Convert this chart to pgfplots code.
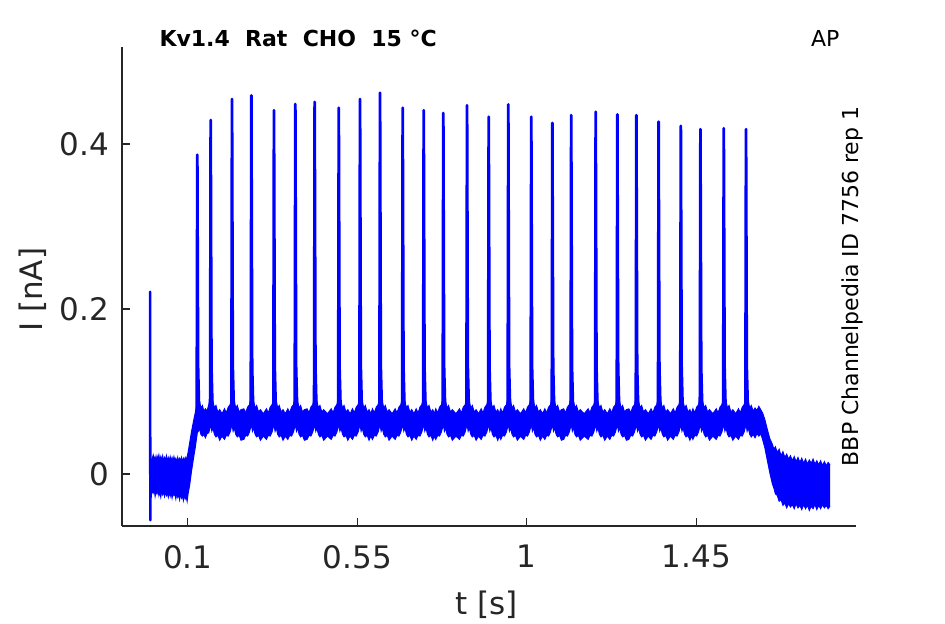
\documentclass[border=0pt]{standalone}
\usepackage{fontspec}
\setmainfont{DejaVu Sans}
\usepackage{pgfplots}
\pgfplotsset{compat=1.18}
\usepackage{pgfplotstable}
\usepgfplotslibrary{fillbetween}
\definecolor{axgray}{HTML}{262626}
\pgfplotstableread{
t up lo
0.001 0.020 -0.018
0.0035 0.015 -0.025
0.006 0.019 -0.020
0.0085 0.023 -0.023
0.011 0.017 -0.018
0.0135 0.021 -0.027
0.016 0.015 -0.021
0.0185 0.022 -0.024
0.021 0.018 -0.019
0.0235 0.023 -0.026
0.026 0.016 -0.022
0.0285 0.021 -0.028
0.031 0.017 -0.020
0.0335 0.022 -0.025
0.036 0.015 -0.022
0.0385 0.020 -0.027
0.041 0.017 -0.021
0.0435 0.022 -0.026
0.046 0.015 -0.023
0.0485 0.020 -0.028
0.051 0.016 -0.021
0.0535 0.021 -0.027
0.056 0.016 -0.022
0.0585 0.020 -0.029
0.061 0.015 -0.023
0.0635 0.021 -0.026
0.066 0.016 -0.024
0.0685 0.019 -0.030
0.071 0.014 -0.023
0.0735 0.020 -0.028
0.076 0.015 -0.025
0.0785 0.019 -0.031
0.081 0.016 -0.024
0.0835 0.020 -0.029
0.086 0.014 -0.026
0.0885 0.019 -0.032
0.091 0.016 -0.025
0.0935 0.020 -0.030
0.096 0.017 -0.027
0.0985 0.021 -0.033
0.101 0.026 -0.024
0.105 0.037 -0.014
0.110 0.051 0.003
0.115 0.063 0.018
0.120 0.074 0.032
0.1255 0.088 0.050
0.1285 0.086 0.052
0.1315 0.088 0.055
0.135 0.080 0.048
0.139 0.083 0.046
0.143 0.076 0.048
0.147 0.079 0.044
0.151 0.076 0.049
0.156 0.084 0.050
0.161 0.094 0.060
0.164 0.086 0.052
0.167 0.088 0.056
0.171 0.080 0.048
0.175 0.083 0.045
0.180 0.075 0.047
0.185 0.078 0.041
0.191 0.073 0.046
0.1976 0.079 0.042
0.2026 0.074 0.047
0.2076 0.081 0.046
0.2126 0.084 0.051
0.2176 0.094 0.060
0.2206 0.086 0.052
0.2236 0.088 0.056
0.2276 0.080 0.048
0.2316 0.083 0.045
0.2366 0.075 0.047
0.2416 0.078 0.041
0.249 0.079 0.042
0.254 0.074 0.047
0.259 0.081 0.046
0.264 0.084 0.051
0.269 0.094 0.060
0.272 0.086 0.052
0.275 0.088 0.056
0.279 0.080 0.048
0.283 0.083 0.045
0.288 0.075 0.047
0.293 0.078 0.041
0.301 0.073 0.046
0.309 0.079 0.042
0.314 0.074 0.047
0.319 0.081 0.046
0.324 0.084 0.051
0.329 0.094 0.060
0.332 0.086 0.052
0.335 0.088 0.056
0.339 0.080 0.048
0.343 0.083 0.045
0.348 0.075 0.047
0.353 0.078 0.041
0.359 0.073 0.046
0.3657 0.079 0.042
0.3707 0.074 0.047
0.3757 0.081 0.046
0.3807 0.084 0.051
0.3857 0.094 0.060
0.3887 0.086 0.052
0.3917 0.088 0.056
0.3957 0.080 0.048
0.3997 0.083 0.045
0.4047 0.075 0.047
0.4097 0.078 0.041
0.417 0.079 0.042
0.422 0.074 0.047
0.427 0.081 0.046
0.432 0.084 0.051
0.437 0.094 0.060
0.440 0.086 0.052
0.443 0.088 0.056
0.447 0.080 0.048
0.451 0.083 0.045
0.456 0.075 0.047
0.461 0.078 0.041
0.471 0.073 0.046
0.481 0.079 0.042
0.486 0.074 0.047
0.491 0.081 0.046
0.496 0.084 0.051
0.501 0.094 0.060
0.504 0.086 0.052
0.507 0.088 0.056
0.511 0.080 0.048
0.515 0.083 0.045
0.520 0.075 0.047
0.525 0.078 0.041
0.531 0.073 0.046
0.5374 0.079 0.042
0.5424 0.074 0.047
0.5474 0.081 0.046
0.5524 0.084 0.051
0.5574 0.094 0.060
0.5604 0.086 0.052
0.5634 0.088 0.056
0.5674 0.080 0.048
0.5714 0.083 0.045
0.5764 0.075 0.047
0.5814 0.078 0.041
0.586 0.073 0.046
0.5905 0.079 0.042
0.5955 0.074 0.047
0.6005 0.081 0.046
0.6055 0.084 0.051
0.6105 0.094 0.060
0.6135 0.086 0.052
0.6165 0.088 0.056
0.6205 0.080 0.048
0.6245 0.083 0.045
0.6295 0.075 0.047
0.6345 0.078 0.041
0.6426 0.073 0.046
0.6507 0.079 0.042
0.6557 0.074 0.047
0.6607 0.081 0.046
0.6657 0.084 0.051
0.6707 0.094 0.060
0.6737 0.086 0.052
0.6767 0.088 0.056
0.6807 0.080 0.048
0.6847 0.083 0.045
0.6897 0.075 0.047
0.6947 0.078 0.041
0.7006 0.073 0.046
0.7065 0.079 0.042
0.7115 0.074 0.047
0.7165 0.081 0.046
0.7215 0.084 0.051
0.7265 0.094 0.060
0.7295 0.086 0.052
0.7325 0.088 0.056
0.7365 0.080 0.048
0.7405 0.083 0.045
0.7455 0.075 0.047
0.7505 0.078 0.041
0.7545 0.073 0.046
0.7585 0.079 0.042
0.7635 0.074 0.047
0.7685 0.081 0.046
0.7735 0.084 0.051
0.7785 0.094 0.060
0.7815 0.086 0.052
0.7845 0.088 0.056
0.7885 0.080 0.048
0.7925 0.083 0.045
0.7975 0.075 0.047
0.8025 0.078 0.041
0.812 0.073 0.046
0.8215 0.079 0.042
0.8265 0.074 0.047
0.8315 0.081 0.046
0.8365 0.084 0.051
0.8415 0.094 0.060
0.8445 0.086 0.052
0.8475 0.088 0.056
0.8515 0.080 0.048
0.8555 0.083 0.045
0.8605 0.075 0.047
0.8655 0.078 0.041
0.872 0.073 0.046
0.879 0.079 0.042
0.884 0.074 0.047
0.889 0.081 0.046
0.894 0.084 0.051
0.899 0.094 0.060
0.902 0.086 0.052
0.905 0.088 0.056
0.909 0.080 0.048
0.913 0.083 0.045
0.918 0.075 0.047
0.923 0.078 0.041
0.927 0.073 0.046
0.931 0.079 0.042
0.936 0.074 0.047
0.941 0.081 0.046
0.946 0.084 0.051
0.951 0.094 0.060
0.954 0.086 0.052
0.957 0.088 0.056
0.961 0.080 0.048
0.965 0.083 0.045
0.970 0.075 0.047
0.975 0.078 0.041
0.9835 0.073 0.046
0.992 0.079 0.042
0.997 0.074 0.047
1.002 0.081 0.046
1.007 0.084 0.051
1.012 0.094 0.060
1.015 0.086 0.052
1.018 0.088 0.056
1.022 0.080 0.048
1.026 0.083 0.045
1.031 0.075 0.047
1.036 0.078 0.041
1.042 0.073 0.046
1.048 0.079 0.042
1.053 0.074 0.047
1.058 0.081 0.046
1.063 0.084 0.051
1.068 0.094 0.060
1.071 0.086 0.052
1.074 0.088 0.056
1.078 0.080 0.048
1.082 0.083 0.045
1.087 0.075 0.047
1.092 0.078 0.041
1.098 0.079 0.042
1.103 0.074 0.047
1.108 0.081 0.046
1.113 0.084 0.051
1.118 0.094 0.060
1.121 0.086 0.052
1.124 0.088 0.056
1.128 0.080 0.048
1.132 0.083 0.045
1.137 0.075 0.047
1.142 0.078 0.041
1.1525 0.073 0.046
1.163 0.079 0.042
1.168 0.074 0.047
1.173 0.081 0.046
1.178 0.084 0.051
1.183 0.094 0.060
1.186 0.086 0.052
1.189 0.088 0.056
1.193 0.080 0.048
1.197 0.083 0.045
1.202 0.075 0.047
1.207 0.078 0.041
1.2138 0.073 0.046
1.2205 0.079 0.042
1.2255 0.074 0.047
1.2305 0.081 0.046
1.2355 0.084 0.051
1.2405 0.094 0.060
1.2435 0.086 0.052
1.2465 0.088 0.056
1.2505 0.080 0.048
1.2545 0.083 0.045
1.2595 0.075 0.047
1.2645 0.078 0.041
1.271 0.079 0.042
1.276 0.074 0.047
1.281 0.081 0.046
1.286 0.084 0.051
1.291 0.094 0.060
1.294 0.086 0.052
1.297 0.088 0.056
1.301 0.080 0.048
1.305 0.083 0.045
1.310 0.075 0.047
1.315 0.078 0.041
1.3225 0.073 0.046
1.330 0.079 0.042
1.335 0.074 0.047
1.340 0.081 0.046
1.345 0.084 0.051
1.350 0.094 0.060
1.353 0.086 0.052
1.356 0.088 0.056
1.360 0.080 0.048
1.364 0.083 0.045
1.369 0.075 0.047
1.374 0.078 0.041
1.3815 0.073 0.046
1.389 0.079 0.042
1.394 0.074 0.047
1.399 0.081 0.046
1.404 0.084 0.051
1.409 0.094 0.060
1.412 0.086 0.052
1.415 0.088 0.056
1.419 0.080 0.048
1.423 0.083 0.045
1.428 0.075 0.047
1.433 0.078 0.041
1.437 0.073 0.046
1.441 0.079 0.042
1.446 0.074 0.047
1.451 0.081 0.046
1.456 0.084 0.051
1.461 0.094 0.060
1.464 0.086 0.052
1.467 0.088 0.056
1.471 0.080 0.048
1.475 0.083 0.045
1.480 0.075 0.047
1.485 0.078 0.041
1.494 0.073 0.046
1.503 0.079 0.042
1.508 0.074 0.047
1.513 0.081 0.046
1.518 0.084 0.051
1.523 0.094 0.060
1.526 0.086 0.052
1.529 0.088 0.056
1.533 0.080 0.048
1.537 0.083 0.045
1.542 0.075 0.047
1.547 0.078 0.041
1.5545 0.073 0.046
1.562 0.079 0.042
1.567 0.074 0.047
1.572 0.081 0.046
1.577 0.084 0.051
1.582 0.094 0.060
1.585 0.086 0.052
1.588 0.088 0.056
1.592 0.080 0.048
1.596 0.083 0.045
1.601 0.076 0.048
1.606 0.080 0.044
1.611 0.077 0.049
1.616 0.082 0.046
1.621 0.078 0.049
1.626 0.074 0.042
1.632 0.066 0.032
1.638 0.055 0.018
1.645 0.043 0.002
1.652 0.036 -0.012
1.656 0.030 -0.017
1.660 0.033 -0.024
1.665 0.026 -0.026
1.670 0.030 -0.033
1.675 0.022 -0.031
1.680 0.027 -0.038
1.685 0.020 -0.035
1.690 0.024 -0.041
1.695 0.018 -0.036
1.700 0.022 -0.040
1.705 0.016 -0.037
1.710 0.021 -0.042
1.715 0.015 -0.036
1.720 0.020 -0.041
1.725 0.014 -0.038
1.730 0.019 -0.043
1.735 0.013 -0.037
1.740 0.018 -0.042
1.745 0.012 -0.038
1.750 0.017 -0.044
1.755 0.013 -0.039
1.760 0.018 -0.042
1.765 0.012 -0.037
1.770 0.016 -0.043
1.775 0.011 -0.038
1.780 0.016 -0.042
1.785 0.010 -0.037
1.790 0.015 -0.041
1.795 0.010 -0.038
1.800 0.014 -0.042
1.805 0.011 -0.039
}\band
\begin{document}
\begin{tikzpicture}
\begin{axis}[
  at={(0pt,0pt)}, anchor=south west,
  scale only axis, width=367pt, height=239.5pt,
  xmin=-0.0744, xmax=1.874, ymin=-0.063, ymax=0.5176,
  axis x line*=bottom, axis y line*=left,
  axis line style={axgray, line width=0.6pt},
  xtick={0.1,0.55,1,1.45}, ytick={0,0.2,0.4},
  xticklabels={0.1,0.55,1,1.45}, yticklabels={0,0.2,0.4},
  tick align=inside, major tick length=4pt,
  tick style={axgray, line width=0.6pt},
  ticklabel style={font=\fontsize{15.5}{18}\selectfont, text=axgray},
  xticklabel style={yshift=-6pt},
  yticklabel style={xshift=-3pt},
  xlabel={t [s]}, ylabel={I [nA]},
  label style={font=\fontsize{15.5}{18}\selectfont, text=axgray},
  xlabel style={at={(axis description cs:0.497,-0.165)}, anchor=center},
  ylabel style={at={(axis description cs:-0.121,0.493)}, anchor=center},
  clip=false,
]
\addplot[name path=U, blue, line width=0.5pt] table[x=t,y=up]{\band};
\addplot[name path=L, blue, line width=0.5pt] table[x=t,y=lo]{\band};
\addplot[blue] fill between[of=U and L];
\addplot[blue, line width=1.2pt, line join=round] coordinates {(0,0.0) (0.0004,0.221) (0.0009,-0.056) (0.0018,-0.005)};
\addplot[blue, line width=1.4pt, line join=round] coordinates {
(0.1240,0.065) (0.1255,0.387) (0.1275,0.13) (0.1305,0.070)
(0.1595,0.070) (0.1610,0.429) (0.1630,0.13) (0.1660,0.075)
(0.2161,0.070) (0.2176,0.4545) (0.2196,0.13) (0.2226,0.075)
(0.2675,0.070) (0.2690,0.459) (0.2710,0.13) (0.2740,0.075)
(0.3275,0.070) (0.3290,0.441) (0.3310,0.13) (0.3340,0.075)
(0.3842,0.070) (0.3857,0.4485) (0.3877,0.13) (0.3907,0.075)
(0.4355,0.070) (0.4370,0.451) (0.4390,0.13) (0.4420,0.075)
(0.4995,0.070) (0.5010,0.444) (0.5030,0.13) (0.5060,0.075)
(0.5559,0.070) (0.5574,0.4545) (0.5594,0.13) (0.5624,0.075)
(0.6090,0.070) (0.6105,0.462) (0.6125,0.13) (0.6155,0.075)
(0.6692,0.070) (0.6707,0.444) (0.6727,0.13) (0.6757,0.075)
(0.7250,0.070) (0.7265,0.441) (0.7285,0.13) (0.7315,0.075)
(0.7770,0.070) (0.7785,0.4376) (0.7805,0.13) (0.7835,0.075)
(0.8400,0.070) (0.8415,0.447) (0.8435,0.13) (0.8465,0.075)
(0.8975,0.070) (0.8990,0.433) (0.9010,0.13) (0.9040,0.075)
(0.9495,0.070) (0.9510,0.448) (0.9530,0.13) (0.9560,0.075)
(1.0105,0.070) (1.0120,0.433) (1.0140,0.13) (1.0170,0.075)
(1.0665,0.070) (1.0680,0.4255) (1.0700,0.13) (1.0730,0.075)
(1.1165,0.070) (1.1180,0.435) (1.1200,0.13) (1.1230,0.075)
(1.1815,0.070) (1.1830,0.439) (1.1850,0.13) (1.1880,0.075)
(1.2390,0.070) (1.2405,0.436) (1.2425,0.13) (1.2455,0.075)
(1.2895,0.070) (1.2910,0.435) (1.2930,0.13) (1.2960,0.075)
(1.3485,0.070) (1.3500,0.427) (1.3520,0.13) (1.3550,0.075)
(1.4075,0.070) (1.4090,0.422) (1.4110,0.13) (1.4140,0.075)
(1.4595,0.070) (1.4610,0.418) (1.4630,0.13) (1.4660,0.075)
(1.5215,0.070) (1.5230,0.419) (1.5250,0.13) (1.5280,0.075)
(1.5805,0.070) (1.5820,0.418) (1.5840,0.13) (1.5870,0.075)
};
\node[anchor=base, font=\bfseries\fontsize{11}{13}\selectfont] at (rel axis cs:0.24,1) {Kv1.4\ \ Rat\ \ CHO\ \ 15 °C};
\node[anchor=base, font=\fontsize{11}{13}\selectfont] at (rel axis cs:0.958,1) {AP};
\node[rotate=90, anchor=base, font=\fontsize{11}{13}\selectfont] at (rel axis cs:1.003,0.5) {BBP Channelpedia ID 7756 rep 1};
\end{axis}
\pgfresetboundingbox
\useasboundingbox (-61pt,-49pt) rectangle (411.5pt,263pt);
\end{tikzpicture}
\end{document}
